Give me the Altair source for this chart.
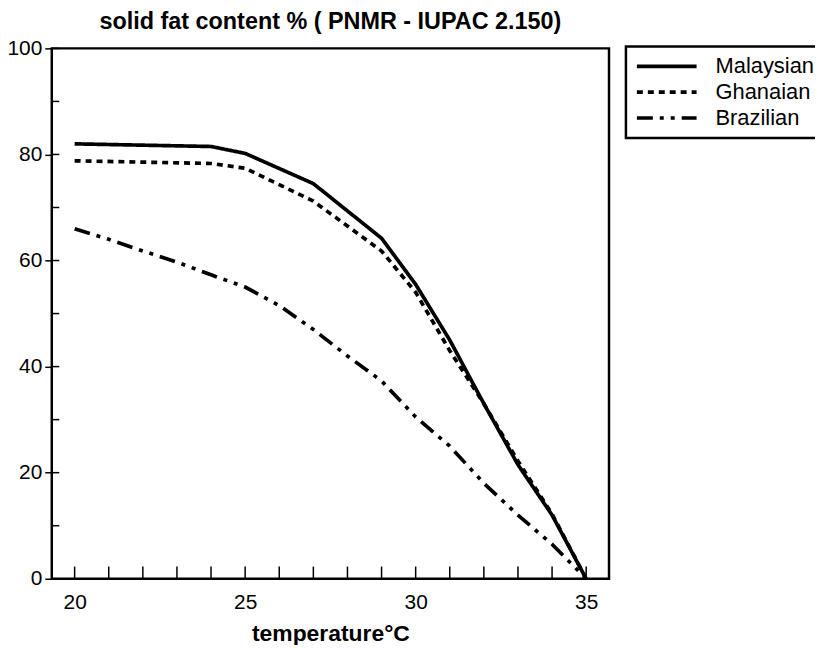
import altair as alt
import pandas as pd

series_names = ["Malaysian", "Ghanaian", "Brazilian"]

temps_malaysian = [20, 24, 25, 27, 29, 30, 31, 32, 33, 34, 35]
sfc_malaysian = [82.0, 81.5, 80.2, 74.5, 64.2, 55.5, 45.0, 33.0, 21.5, 12.0, 0.0]

temps_ghanaian = [20, 24, 25, 27, 28, 29, 30, 31, 32, 33, 34, 35]
sfc_ghanaian = [78.8, 78.3, 77.4, 71.2, 66.5, 61.8, 54.0, 43.0, 33.0, 22.2, 12.2, 0.0]

temps_brazilian = [20, 21, 22, 23, 24, 25, 26, 27, 28, 29, 30, 31, 32, 33, 34, 35]
sfc_brazilian = [66.0, 64.0, 61.8, 59.7, 57.3, 55.0, 51.5, 47.0, 42.0, 37.3, 30.5, 25.0, 18.0, 12.0, 6.5, 0.0]

x_tick_values = list(range(20, 36))
x_label_values = [20, 25, 30, 35]
y_tick_values = list(range(0, 101, 10))
y_label_values = [0, 20, 40, 60, 80, 100]

rows = []
for name, ts, vs in [("Malaysian", temps_malaysian, sfc_malaysian),
                     ("Ghanaian", temps_ghanaian, sfc_ghanaian),
                     ("Brazilian", temps_brazilian, sfc_brazilian)]:
    for t, v in zip(ts, vs):
        rows.append({"series": name, "temp": t, "sfc": v})
df = pd.DataFrame(rows)

XDOM = [19.33, 35.67]
FONT = "Liberation Sans"

xscale = alt.Scale(domain=XDOM, nice=False, zero=False)
yscale = alt.Scale(domain=[0, 100], nice=False)

lines = alt.Chart(df).mark_line(strokeWidth=3.7, color="black", strokeCap="butt").encode(
    x=alt.X("temp:Q", scale=xscale,
            axis=alt.Axis(values=x_label_values, ticks=False, tickSize=0, domain=False, grid=False,
                          labelFontSize=21, labelFont=FONT, labelColor="black", labelPadding=13,
                          title="temperature°C", titleFontSize=23, titleFont=FONT,
                          titleFontWeight="bold", titleColor="black", titlePadding=10)),
    y=alt.Y("sfc:Q", scale=yscale,
            axis=alt.Axis(values=y_label_values, tickCount=11, ticks=True, tickSize=7, tickWidth=1.5,
                          tickColor="black", domain=False, grid=False,
                          labelFontSize=21, labelFont=FONT, labelColor="black", labelPadding=3,
                          title=None)),
    strokeDash=alt.StrokeDash("series:N",
                              scale=alt.Scale(domain=series_names,
                                              range=[[1, 0], [6, 5], [16, 7, 4, 7, 4, 7]]),
                              legend=alt.Legend(title=None, orient="none", legendX=577, legendY=-2,
                                                symbolType="stroke", symbolSize=3600,
                                                symbolStrokeWidth=3.7, symbolStrokeColor="black",
                                                labelFontSize=22, labelFont=FONT, labelColor="black",
                                                labelOffset=17, clipHeight=22, rowPadding=4,
                                                padding=9)),
    detail="series:N",
)

xt = pd.DataFrame({"t": x_tick_values})
xticks = alt.Chart(xt).mark_rule(color="black", strokeWidth=1.5).encode(
    x=alt.X("t:Q", scale=xscale),
    y=alt.datum(0, scale=yscale),
    y2=alt.datum(2.3),
)

yt = pd.DataFrame({"v": y_tick_values})
yticks = alt.Chart(yt).mark_rule(color="black", strokeWidth=1.5).encode(
    y=alt.Y("v:Q", scale=yscale),
    x=alt.datum(XDOM[0], scale=xscale),
    x2=alt.datum(XDOM[0] + 0.22),
)

chart = alt.layer(xticks, yticks, lines).properties(
    width=560, height=533,
    title="solid fat content % ( PNMR - IUPAC 2.150)",
    autosize=alt.AutoSizeParams(type="none"),
    padding={"left": 44, "top": 39, "right": 207, "bottom": 65},
).configure_view(
    stroke="black", strokeWidth=2.5
).configure_title(
    fontSize=23.5, font=FONT, fontWeight="bold", color="black", anchor="middle", offset=4
).configure_legend(
    strokeColor="black", strokeWidth=2.5
)

chart.save("out.html", embed_options={"renderer": "svg", "actions": False})
